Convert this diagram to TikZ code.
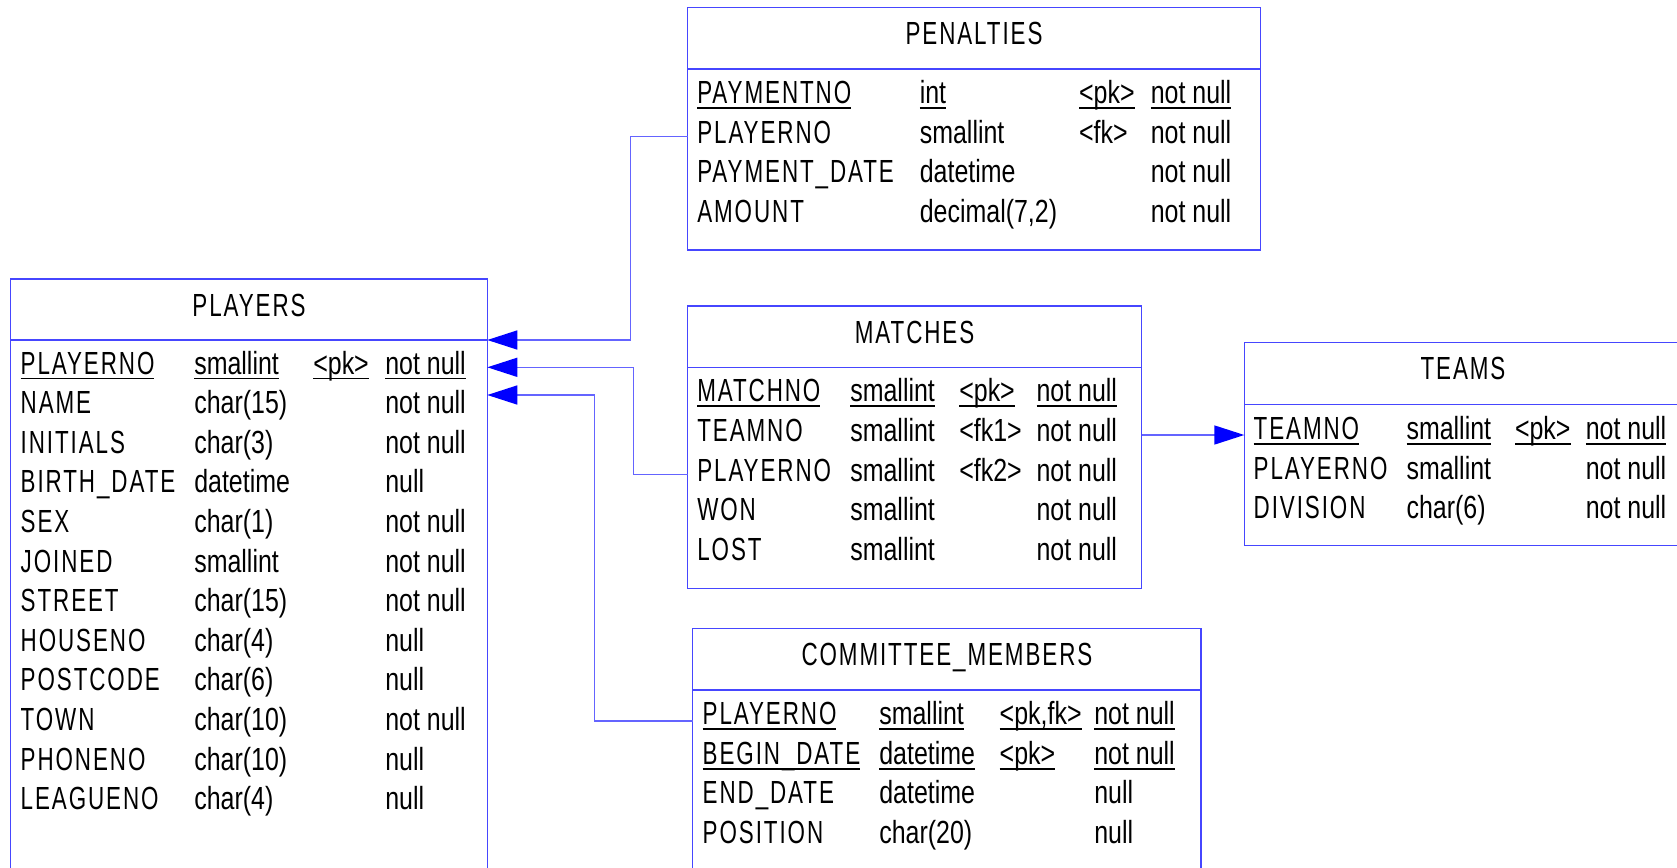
\documentclass[tikz,border=0pt]{standalone}
\usepackage{fontspec}
\setmainfont{Liberation Sans}[FakeStretch=0.78]
\newfontfamily\capsfont{Liberation Sans}[FakeStretch=0.70,LetterSpace=6]
\usetikzlibrary{arrows.meta}
\definecolor{boxblue}{RGB}{70,70,255}
\definecolor{linkblue}{RGB}{100,100,255}
\definecolor{tipblue}{RGB}{0,0,255}
\tikzset{
  tbl/.style={draw=boxblue,line width=1.5pt,rectangle,inner sep=0pt,outer sep=0pt,anchor=north west,fill=white},
  cell/.style={inner sep=0pt,outer sep=0pt,anchor=base west,font=\fontsize{32}{38}\selectfont},
  capcell/.style={cell,font=\fontsize{32}{38}\selectfont\capsfont},
  ttl/.style={inner sep=0pt,outer sep=0pt,anchor=base,font=\fontsize{32}{38}\selectfont\capsfont},
  hdr/.style={draw=boxblue,line width=1.5pt},
  conn/.style={draw=linkblue,line width=1.5pt},
  fkarrow/.style={conn,-{Triangle[length=30pt,width=19pt,color=tipblue,fill=tipblue]}},
  ulline/.style={line width=1.8pt,black}
}
\newcommand\erow[6]{%
  \node[capcell] (#1a) at (\colA,#2) {#3};
  \node[cell] (#1b) at (\colB,#2) {#4};
  \node[cell] (#1c) at (\colC,#2) {#5};
  \node[cell] (#1d) at (\colD,#2) {#6};
}
\newcommand\ulrow[1]{%
  \foreach \cc in {a,b,c,d}{\draw[ulline] ([yshift=-4.5pt]#1\cc.base west) -- ([yshift=-4.5pt]#1\cc.base east);}
}
\begin{document}
\begin{tikzpicture}[x=1pt,y=-1pt]
\useasboundingbox (0,0) rectangle (1677,867);
\clip (0,0) rectangle (1677,867);
\fill[white] (0,0) rectangle (1677,867);

% ---------------- PLAYERS
\node[tbl,minimum width=476.6pt,minimum height=700pt] (players) at (10.7,279) {};
\draw[hdr] (players.west |- 0,340) -- (players.east |- 0,340);
\node[ttl] (playersT) at (249,316) {PLAYERS};
\def\colA{20.7}\def\colB{194.3}\def\colC{313.3}\def\colD{385.3}
\erow{pl1}{374}{PLAYERNO}{smallint}{<pk>}{not null}
\ulrow{pl1}
\erow{pl2}{413.6}{NAME}{char(15)}{}{not null}
\erow{pl3}{453.2}{INITIALS}{char(3)}{}{not null}
\erow{pl4}{492.8}{BIRTH\_DATE}{datetime}{}{null}
\erow{pl5}{532.4}{SEX}{char(1)}{}{not null}
\erow{pl6}{572}{JOINED}{smallint}{}{not null}
\erow{pl7}{611.6}{STREET}{char(15)}{}{not null}
\erow{pl8}{651.2}{HOUSENO}{char(4)}{}{null}
\erow{pl9}{690.8}{POSTCODE}{char(6)}{}{null}
\erow{pl10}{730.4}{TOWN}{char(10)}{}{not null}
\erow{pl11}{770}{PHONENO}{char(10)}{}{null}
\erow{pl12}{809.6}{LEAGUENO}{char(4)}{}{null}

% ---------------- PENALTIES
\node[tbl,minimum width=572.8pt,minimum height=242.5pt] (penalties) at (687.7,7.5) {};
\draw[hdr] (penalties.west |- 0,69) -- (penalties.east |- 0,69);
\node[ttl] (penaltiesT) at (974,44.5) {PENALTIES};
\def\colA{697.3}\def\colB{919.8}\def\colC{1079.1}\def\colD{1150.8}
\erow{pe1}{103.5}{PAYMENTNO}{int}{<pk>}{not null}
\ulrow{pe1}
\erow{pe2}{143.2}{PLAYERNO}{smallint}{<fk>}{not null}
\erow{pe3}{182.9}{PAYMENT\_DATE}{datetime}{}{not null}
\erow{pe4}{222.6}{AMOUNT}{decimal(7,2)}{}{not null}

% ---------------- MATCHES
\node[tbl,minimum width=453.8pt,minimum height=282.3pt] (matches) at (687.7,306) {};
\draw[hdr] (matches.west |- 0,367.3) -- (matches.east |- 0,367.3);
\node[ttl] (matchesT) at (914.6,343) {MATCHES};
\def\colA{697.3}\def\colB{850.3}\def\colC{959.3}\def\colD{1036.5}
\erow{ma1}{401.7}{MATCHNO}{smallint}{<pk>}{not null}
\ulrow{ma1}
\erow{ma2}{441.4}{TEAMNO}{smallint}{<fk1>}{not null}
\erow{ma3}{481.1}{PLAYERNO}{smallint}{<fk2>}{not null}
\erow{ma4}{520.8}{WON}{smallint}{}{not null}
\erow{ma5}{560.5}{LOST}{smallint}{}{not null}

% ---------------- TEAMS
\node[tbl,minimum width=460pt,minimum height=203pt] (teams) at (1244.3,342.7) {};
\draw[hdr] (teams.west |- 0,404.3) -- (teams.east |- 0,404.3);
\node[ttl] (teamsT) at (1463,379.7) {TEAMS};
\def\colA{1253.7}\def\colB{1406.5}\def\colC{1515}\def\colD{1585.8}
\erow{te1}{439.5}{TEAMNO}{smallint}{<pk>}{not null}
\ulrow{te1}
\erow{te2}{479.2}{PLAYERNO}{smallint}{}{not null}
\erow{te3}{518.9}{DIVISION}{char(6)}{}{not null}

% ---------------- COMMITTEE_MEMBERS
\node[tbl,minimum width=508.3pt,minimum height=400pt] (committee) at (692.7,628.7) {};
\draw[hdr] (committee.west |- 0,690) -- (committee.east |- 0,690);
\node[ttl] (committeeT) at (946.9,665.7) {COMMITTEE\_MEMBERS};
\def\colA{702.7}\def\colB{879.3}\def\colC{999.7}\def\colD{1094.3}
\erow{co1}{724.5}{PLAYERNO}{smallint}{<pk,fk>}{not null}
\ulrow{co1}
\erow{co2}{764.2}{BEGIN\_DATE}{datetime}{<pk>}{not null}
\ulrow{co2}
\erow{co3}{803.9}{END\_DATE}{datetime}{}{null}
\erow{co4}{843.6}{POSITION}{char(20)}{}{null}

% ---------------- connectors
\coordinate (b1) at (630.7,136.7);
\coordinate (b2) at (633.3,474.3);
\coordinate (b3) at (594.7,721);
\coordinate (b4) at (1141.5,435);
\draw[fkarrow] (penalties.west |- b1) -- (b1) |- (players.east |- 0,340);
\draw[fkarrow] (matches.west |- b2) -- (b2) |- (players.east |- 0,367.3);
\draw[fkarrow] (committee.west |- b3) -- (b3) |- (players.east |- 0,395);
\draw[fkarrow] (matches.east |- b4) -- (teams.west |- b4);
\end{tikzpicture}
\end{document}
